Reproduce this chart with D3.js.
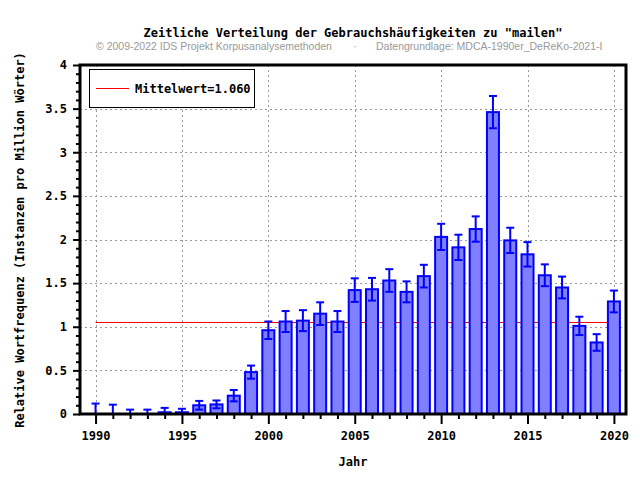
<!DOCTYPE html>
<html><head><meta charset="utf-8">
<script src="https://cdn.jsdelivr.net/npm/d3@7"></script>
<style>body{margin:0;background:#fff}svg{display:block}</style>
</head><body>
<script>
const years = d3.range(1990, 2021);
const values = [0, 0, 0, 0, 0.02, 0.02, 0.10, 0.11, 0.21, 0.48, 0.96, 1.06, 1.07, 1.15, 1.06, 1.42, 1.43, 1.53, 1.40, 1.58, 2.03, 1.91, 2.12, 3.46, 1.99, 1.83, 1.59, 1.45, 1.01, 0.82, 1.29];
const errors = [0.12, 0.107, 0.05, 0.05, 0.05, 0.04, 0.05, 0.045, 0.065, 0.075, 0.10, 0.12, 0.12, 0.13, 0.12, 0.135, 0.13, 0.13, 0.12, 0.13, 0.15, 0.145, 0.145, 0.185, 0.145, 0.14, 0.125, 0.125, 0.105, 0.095, 0.125];
const meanValue = 1.060;
const yTicks = [0, 0.5, 1, 1.5, 2, 2.5, 3, 3.5, 4];
const xTicks = [1990, 1995, 2000, 2005, 2010, 2015, 2020];
const titleText = 'Zeitliche Verteilung der Gebrauchshäufigkeiten zu "mailen"';
const subLeft = '© 2009-2022 IDS Projekt Korpusanalysemethoden';
const subRight = 'Datengrundlage: MDCA-1990er_DeReKo-2021-I';

const W = 640, H = 480;
const L = 80, R = 626, T = 65, B = 414;
const mono = '"DejaVu Sans Mono", "Liberation Mono", monospace';

const svg = d3.select('body').append('svg').attr('width', W).attr('height', H);
const x = d3.scaleLinear().domain([1989.10, 2020.70]).range([L, R]);
const y = d3.scaleLinear().domain([0, 4]).range([B, T]);

// grid
const g = svg.append('g');
g.selectAll('.gx').data(xTicks).join('line')
  .attr('x1', d => Math.round(x(d)) + 0.5).attr('x2', d => Math.round(x(d)) + 0.5)
  .attr('y1', T).attr('y2', B)
  .attr('stroke', '#999').attr('stroke-dasharray', '2,3');
g.selectAll('.gy').data(yTicks.slice(1, -1)).join('line')
  .attr('y1', d => Math.round(y(d)) + 0.5).attr('y2', d => Math.round(y(d)) + 0.5)
  .attr('x1', L).attr('x2', R)
  .attr('stroke', '#999').attr('stroke-dasharray', '2,3');

// mean line
svg.append('line')
  .attr('x1', x(1990)).attr('x2', x(2020))
  .attr('y1', Math.round(y(meanValue)) + 0.5).attr('y2', Math.round(y(meanValue)) + 0.5)
  .attr('stroke', '#ff0000').attr('stroke-width', 1);

// bars
const bw = 12;
svg.append('g').selectAll('rect').data(years.map((yr, i) => ({yr, v: values[i], e: errors[i]})))
  .join('rect')
  .attr('x', d => x(d.yr) - bw / 2)
  .attr('y', d => y(d.v))
  .attr('width', bw)
  .attr('height', d => Math.max(0, B - y(d.v)))
  .attr('fill', '#8080ff').attr('stroke', '#0000ff').attr('stroke-width', 2);

// error bars
const eg = svg.append('g').attr('stroke', '#0000ff').attr('stroke-width', 2);
years.forEach((yr, i) => {
  const lo = Math.max(0, values[i] - errors[i]), hi = values[i] + errors[i];
  const cx = x(yr);
  eg.append('line').attr('x1', cx).attr('x2', cx).attr('y1', y(lo)).attr('y2', y(hi));
  eg.append('line').attr('x1', cx - 4).attr('x2', cx + 4).attr('y1', y(hi)).attr('y2', y(hi));
  eg.append('line').attr('x1', cx - 4).attr('x2', cx + 4).attr('y1', y(lo)).attr('y2', y(lo));
});

// frame
svg.append('rect').attr('x', L).attr('y', T).attr('width', R - L).attr('height', B - T)
  .attr('fill', 'none').attr('stroke', '#000').attr('stroke-width', 3);

// y axis
const yAxis = svg.append('g').attr('transform', `translate(${L},0)`)
  .call(d3.axisLeft(y).tickValues(yTicks).tickSize(7).tickPadding(6)
    .tickFormat(d => d3.format('')(d)));
yAxis.select('.domain').remove();
yAxis.selectAll('.tick line').attr('stroke', '#000').attr('stroke-width', 2);
yAxis.selectAll('text').attr('font-family', mono).attr('font-weight', 'bold').attr('font-size', 12).attr('fill', '#000');
const yMinor = svg.append('g').attr('transform', `translate(${L},0)`)
  .call(d3.axisLeft(y).tickValues(d3.range(0, 41).filter(k => k % 5 !== 0).map(k => k / 10)).tickSize(4).tickFormat(''));
yMinor.select('.domain').remove();
yMinor.selectAll('.tick line').attr('stroke', '#000').attr('stroke-width', 2);

// x axis
const xAxis = svg.append('g').attr('transform', `translate(0,${B})`)
  .call(d3.axisBottom(x).tickValues(xTicks).tickSize(10).tickPadding(7).tickFormat(d3.format('d')));
xAxis.select('.domain').remove();
xAxis.selectAll('.tick line').attr('stroke', '#000').attr('stroke-width', 2);
xAxis.selectAll('text').attr('font-family', mono).attr('font-weight', 'bold').attr('font-size', 12).attr('fill', '#000');
const xMinor = svg.append('g').attr('transform', `translate(0,${B})`)
  .call(d3.axisBottom(x).tickValues(years.filter(v => v % 5 !== 0)).tickSize(5).tickFormat(''));
xMinor.select('.domain').remove();
xMinor.selectAll('.tick line').attr('stroke', '#000').attr('stroke-width', 2);

// legend
svg.append('rect').attr('x', 89.5).attr('y', 69.5).attr('width', 165).attr('height', 38)
  .attr('fill', '#fff').attr('stroke', '#000').attr('stroke-width', 1);
svg.append('line').attr('x1', 96).attr('x2', 129).attr('y1', 88.5).attr('y2', 88.5)
  .attr('stroke', '#ff0000').attr('stroke-width', 1);
svg.append('text').attr('x', 135).attr('y', 92.5).text('Mittelwert=' + meanValue.toFixed(3))
  .attr('font-family', mono).attr('font-weight', 'bold').attr('font-size', 12);

// titles
svg.append('text').attr('x', 353).attr('y', 37).attr('text-anchor', 'middle').text(titleText)
  .attr('font-family', mono).attr('font-weight', 'bold').attr('font-size', 12);
svg.append('text').attr('x', 96).attr('y', 50).text(subLeft)
  .attr('font-family', '"Liberation Sans", Arial, sans-serif').attr('font-size', 10.5).attr('fill', '#999');
svg.append('text').attr('x', 355).attr('y', 50).text('·').attr('text-anchor', 'middle')
  .attr('font-family', '"Liberation Sans", sans-serif').attr('font-size', 10.5).attr('fill', '#999');
svg.append('text').attr('x', 376).attr('y', 50).text(subRight)
  .attr('font-family', '"Liberation Sans", Arial, sans-serif').attr('font-size', 10.5).attr('fill', '#999');

// axis labels
svg.append('text').attr('x', 353).attr('y', 466).attr('text-anchor', 'middle').text('Jahr')
  .attr('font-family', mono).attr('font-weight', 'bold').attr('font-size', 12);
svg.append('text').attr('transform', 'translate(24,240) rotate(-90)').attr('text-anchor', 'middle')
  .text('Relative Wortfrequenz (Instanzen pro Million Wörter)')
  .attr('font-family', mono).attr('font-weight', 'bold').attr('font-size', 12);
</script>
</body></html>
